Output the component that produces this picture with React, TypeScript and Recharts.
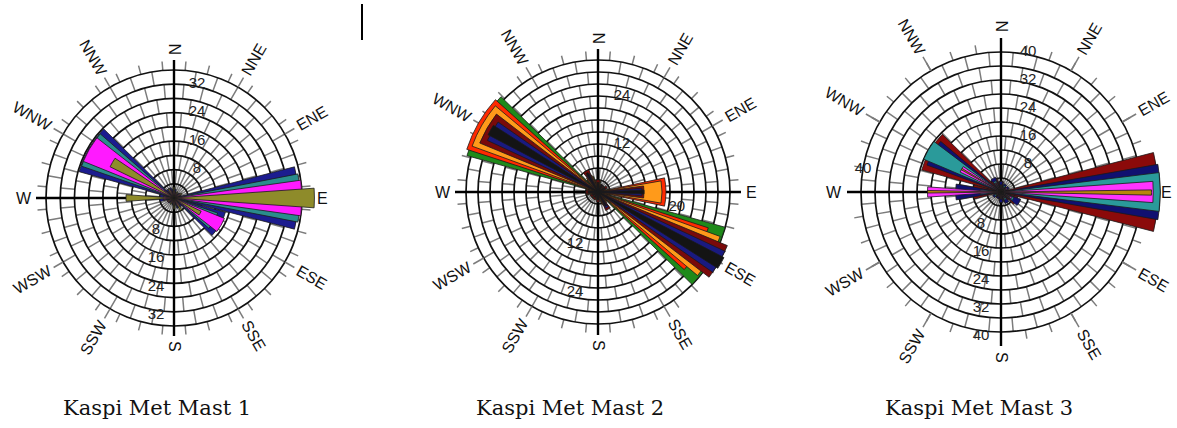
import React from "react";
import {
  RadialBarChart,
  RadialBar,
  PolarAngleAxis,
  PolarRadiusAxis,
  PolarGrid,
} from "recharts";

// 12 sectors, 30 deg each, compass bearings
const DIRECTIONS = ["N", "NNE", "ENE", "E", "ESE", "SSE", "S", "SSW", "WSW", "W", "WNW", "NNW"];
const BEARINGS = [0, 30, 60, 90, 120, 150, 180, 210, 240, 270, 300, 330];

// Mast 1 (% frequency per sector)
const M1_NAVY = [2.5, 1.5, 2, 35, 15, 3, 2, 1.5, 2, 4, 27.7, 3];
const M1_TEAL = [2, 1.5, 2, 35.5, 13, 2.5, 2, 1.5, 2, 3, 27.5, 2.5];
const M1_MAGENTA = [2, 1.5, 2, 36, 15.3, 2.5, 2, 1.5, 2, 3, 27.5, 2.5];
const M1_OLIVE = [3, 2, 2.5, 39.5, 8.5, 4, 3, 2, 2, 13.5, 20, 3];
const M1_RINGS = [4, 8, 12, 16, 20, 24, 28, 32, 36];
const M1_LABELS = [8, 16, 24, 32];

// Mast 2
const M2_GREEN = [3, 2, 2, 3, 33, 3, 2, 2, 2, 3, 34, 4];
const M2_RED = [3, 2, 2, 17, 29, 3, 2, 2, 2, 3, 34.5, 4];
const M2_ORANGE = [2.5, 2, 2, 16, 32.5, 3.5, 2, 2, 2, 2.5, 33.5, 4.5];
const M2_DARKRED = [3, 2, 2.5, 11.5, 35, 5, 2.5, 2, 2, 3, 32, 6];
const M2_NAVY = [2, 2, 2, 11, 35, 4.5, 2, 1.5, 1.5, 2.5, 30.5, 5];
const M2_BLACK = [2.5, 2, 2, 11.5, 35.5, 4, 2, 1.5, 1.5, 2.5, 31, 5.5];
const M2_RINGS = [3, 6, 9, 12, 15, 18, 21, 24, 27, 30, 33];
const M2_LABELS = [12, 24];

// Mast 3
const M3_DARKRED = [3, 2, 2, 45, 5, 3, 2.5, 2, 2, 8, 23.5, 4];
const M3_NAVY = [3, 2.5, 2.5, 45.5, 6, 3.5, 3, 2, 2.5, 13, 22.5, 4.5];
const M3_TEAL = [2, 2, 2, 45.5, 4, 2.5, 2, 1.5, 2, 6, 24, 3.5];
const M3_MAGENTA = [2, 1.5, 2, 43.5, 3.5, 2, 2, 1.5, 1.5, 21, 13, 3];
const M3_ORANGE = [2, 1.5, 1.5, 43, 3, 2, 2, 1.5, 1.5, 21, 13, 3];
const M3_RINGS = [4, 8, 12, 16, 20, 24, 28, 32, 36, 40];
const M3_LABELS = [8, 16, 24, 32, 40];

type Series = { key: string; values: number[]; color: string; half: number };

const SIZE = 380;
const C = SIZE / 2;

const SPOKES_A = Array.from({ length: 36 }, (_, i) => i * 10);
const SPOKES_B = Array.from({ length: 36 }, (_, i) => i * 10 + 5);
const CROSS = [0, 90, 180, 270];
const LABEL_LINES = BEARINGS.filter((b) => b % 90 !== 0);

const layer: React.CSSProperties = { position: "absolute", left: 0, top: 0 };
const SANS = "'Liberation Sans', Arial, sans-serif";
const SPOKE = "#7c7c7c";

function DirTick(props: any) {
  const { x, y, payload } = props;
  const b = (((90 - payload.coordinate) % 360) + 360) % 360;
  const right = b > 0.5 && b <= 180.5;
  const rot = right ? b - 90 : b - 270;
  return (
    <text
      x={x}
      y={y}
      transform={`rotate(${rot} ${x} ${y})`}
      textAnchor={right ? "start" : "end"}
      dominantBaseline="central"
      fontSize={16}
      fontFamily={SANS}
      fill="#111"
    >
      {payload.value}
    </text>
  );
}

function ringTick(dx: number, dy: number) {
  return (p: any) => (
    <text
      x={p.x + dx}
      y={p.y + dy}
      textAnchor="middle"
      dominantBaseline="central"
      fontSize={15}
      fontFamily={SANS}
      fill="#222"
    >
      {p.payload.value}
    </text>
  );
}

type PanelProps = {
  cx: number;
  cy: number;
  outer: number;
  max: number;
  rings: number[];
  labels: number[];
  northDx: number;
  southDx: number;
  labelR: number;
  axisLen: number;
  series: Series[];
  extra?: { angle: number; value: number };
};

function WindRose(p: PanelProps) {
  const rows = DIRECTIONS.map((dir, i) => {
    const row: Record<string, any> = { dir };
    p.series.forEach((s) => (row[s.key] = s.values[i]));
    return row;
  });
  const dash = p.outer / p.rings.length;
  const common = { width: SIZE, height: SIZE, cx: C, cy: C, data: rows };
  const hidden = { tick: false as const, axisLine: false, tickLine: false };
  const radius = { type: "number" as const, domain: [0, p.max], allowDataOverflow: true };

  return (
    <div style={{ position: "absolute", left: p.cx - C, top: p.cy - C, width: SIZE, height: SIZE }}>
      <div style={layer}>
        <RadialBarChart {...common} innerRadius={0} outerRadius={p.outer + 9}>
          <PolarGrid gridType="circle" polarRadius={[]} polarAngles={SPOKES_A} stroke={SPOKE} strokeWidth={1.5} strokeDasharray={`${dash} ${dash}`} />
        </RadialBarChart>
      </div>
      <div style={layer}>
        <RadialBarChart {...common} innerRadius={0} outerRadius={p.outer + 9}>
          <PolarGrid gridType="circle" polarRadius={[]} polarAngles={SPOKES_B} stroke={SPOKE} strokeWidth={1.5} strokeDasharray={`${dash} ${dash}`} strokeDashoffset={dash} />
        </RadialBarChart>
      </div>
      <div style={layer}>
        <RadialBarChart {...common} layout="centric" startAngle={75} endAngle={-285} innerRadius={0} outerRadius={p.outer}>
          <PolarAngleAxis type="category" dataKey="dir" {...hidden} />
          <PolarRadiusAxis {...radius} ticks={p.rings} {...hidden} />
          <PolarGrid gridType="circle" radialLines={false} polarAngles={CROSS} stroke="#111" strokeWidth={1.7} />
          <PolarRadiusAxis radiusAxisId="n" angle={90} {...radius} ticks={p.labels} tick={ringTick(p.northDx, -2)} axisLine={false} tickLine={false} />
          <PolarRadiusAxis radiusAxisId="s" angle={270} {...radius} ticks={p.labels} tick={ringTick(p.southDx, 2)} axisLine={false} tickLine={false} />
          {p.extra && (
            <PolarRadiusAxis radiusAxisId="x" angle={p.extra.angle} {...radius} ticks={[p.extra.value]} tick={ringTick(0, 0)} axisLine={false} tickLine={false} />
          )}
        </RadialBarChart>
      </div>
      <div style={layer}>
        <RadialBarChart {...common} innerRadius={0} outerRadius={p.axisLen}>
          <PolarGrid gridType="circle" polarRadius={[]} polarAngles={CROSS} stroke="#000" strokeWidth={2.4} />
        </RadialBarChart>
      </div>
      <div style={layer}>
        <RadialBarChart {...common} innerRadius={p.outer} outerRadius={p.labelR - 4}>
          <PolarGrid gridType="circle" polarRadius={[]} polarAngles={LABEL_LINES} stroke={SPOKE} strokeWidth={1.5} />
        </RadialBarChart>
      </div>
      {p.series.map((s) => (
        <div style={layer} key={s.key}>
          <RadialBarChart
            {...common}
            layout="centric"
            startAngle={75}
            endAngle={-285}
            innerRadius={0}
            outerRadius={p.outer}
            barCategoryGap={`${((15 - s.half) / 30) * 100}%`}
          >
            <PolarAngleAxis type="category" dataKey="dir" {...hidden} />
            <PolarRadiusAxis {...radius} {...hidden} />
            <RadialBar dataKey={s.key} fill={s.color} stroke="#1a1a1a" strokeWidth={0.8} isAnimationActive={false} />
          </RadialBarChart>
        </div>
      ))}
      <div style={layer}>
        <RadialBarChart {...common} layout="centric" startAngle={90} endAngle={-270} innerRadius={0} outerRadius={p.labelR - 8}>
          <PolarAngleAxis type="category" dataKey="dir" tick={(t: any) => <DirTick {...t} />} axisLine={false} tickLine={false} />
          <PolarRadiusAxis {...radius} {...hidden} />
        </RadialBarChart>
      </div>
    </div>
  );
}

const caption: React.CSSProperties = {
  position: "absolute",
  top: 396,
  fontFamily: "'DejaVu Serif', serif",
  fontSize: 21,
  color: "#111",
  whiteSpace: "nowrap",
};

export default function App() {
  return (
    <div style={{ position: "absolute", left: 0, top: 0, width: 1177, height: 428, overflow: "hidden", background: "#fff" }}>
      <WindRose
        cx={174}
        cy={198}
        outer={128}
        max={36}
        rings={M1_RINGS}
        labels={M1_LABELS}
        northDx={23}
        southDx={-18}
        labelR={143}
        axisLen={138}
        series={[
          { key: "navy", values: M1_NAVY, color: "#1c1c8f", half: 14.5 },
          { key: "teal", values: M1_TEAL, color: "#2a8c8c", half: 11 },
          { key: "magenta", values: M1_MAGENTA, color: "#ff1aff", half: 8 },
          { key: "olive", values: M1_OLIVE, color: "#8e8b2a", half: 4 },
        ]}
      />
      <WindRose
        cx={598}
        cy={192}
        outer={132}
        max={33}
        rings={M2_RINGS}
        labels={M2_LABELS}
        northDx={24}
        southDx={-23}
        labelR={148}
        axisLen={143}
        extra={{ angle: -10, value: 20 }}
        series={[
          { key: "green", values: M2_GREEN, color: "#1f8a1a", half: 14.5 },
          { key: "red", values: M2_RED, color: "#ff2a00", half: 12 },
          { key: "orange", values: M2_ORANGE, color: "#ff9a1a", half: 10 },
          { key: "darkred", values: M2_DARKRED, color: "#7a0a0a", half: 7.5 },
          { key: "navy", values: M2_NAVY, color: "#1a1a80", half: 5 },
          { key: "black", values: M2_BLACK, color: "#141414", half: 2.5 },
        ]}
      />
      <WindRose
        cx={1001}
        cy={192}
        outer={140}
        max={40}
        rings={M3_RINGS}
        labels={M3_LABELS}
        northDx={27}
        southDx={-20}
        labelR={160}
        axisLen={154}
        extra={{ angle: 170, value: 40 }}
        series={[
          { key: "darkred", values: M3_DARKRED, color: "#8b0a0a", half: 14.5 },
          { key: "navy", values: M3_NAVY, color: "#101070", half: 10 },
          { key: "teal", values: M3_TEAL, color: "#2a9a9a", half: 7 },
          { key: "magenta", values: M3_MAGENTA, color: "#ff33ff", half: 4 },
          { key: "orange", values: M3_ORANGE, color: "#b8860b", half: 1.2 },
        ]}
      />
      <div style={{ position: "absolute", left: 361, top: 4, width: 2, height: 36, background: "#000" }} />
      <div style={{ ...caption, left: 63 }}>Kaspi Met Mast 1</div>
      <div style={{ ...caption, left: 476 }}>Kaspi Met Mast 2</div>
      <div style={{ ...caption, left: 885 }}>Kaspi Met Mast 3</div>
    </div>
  );
}
